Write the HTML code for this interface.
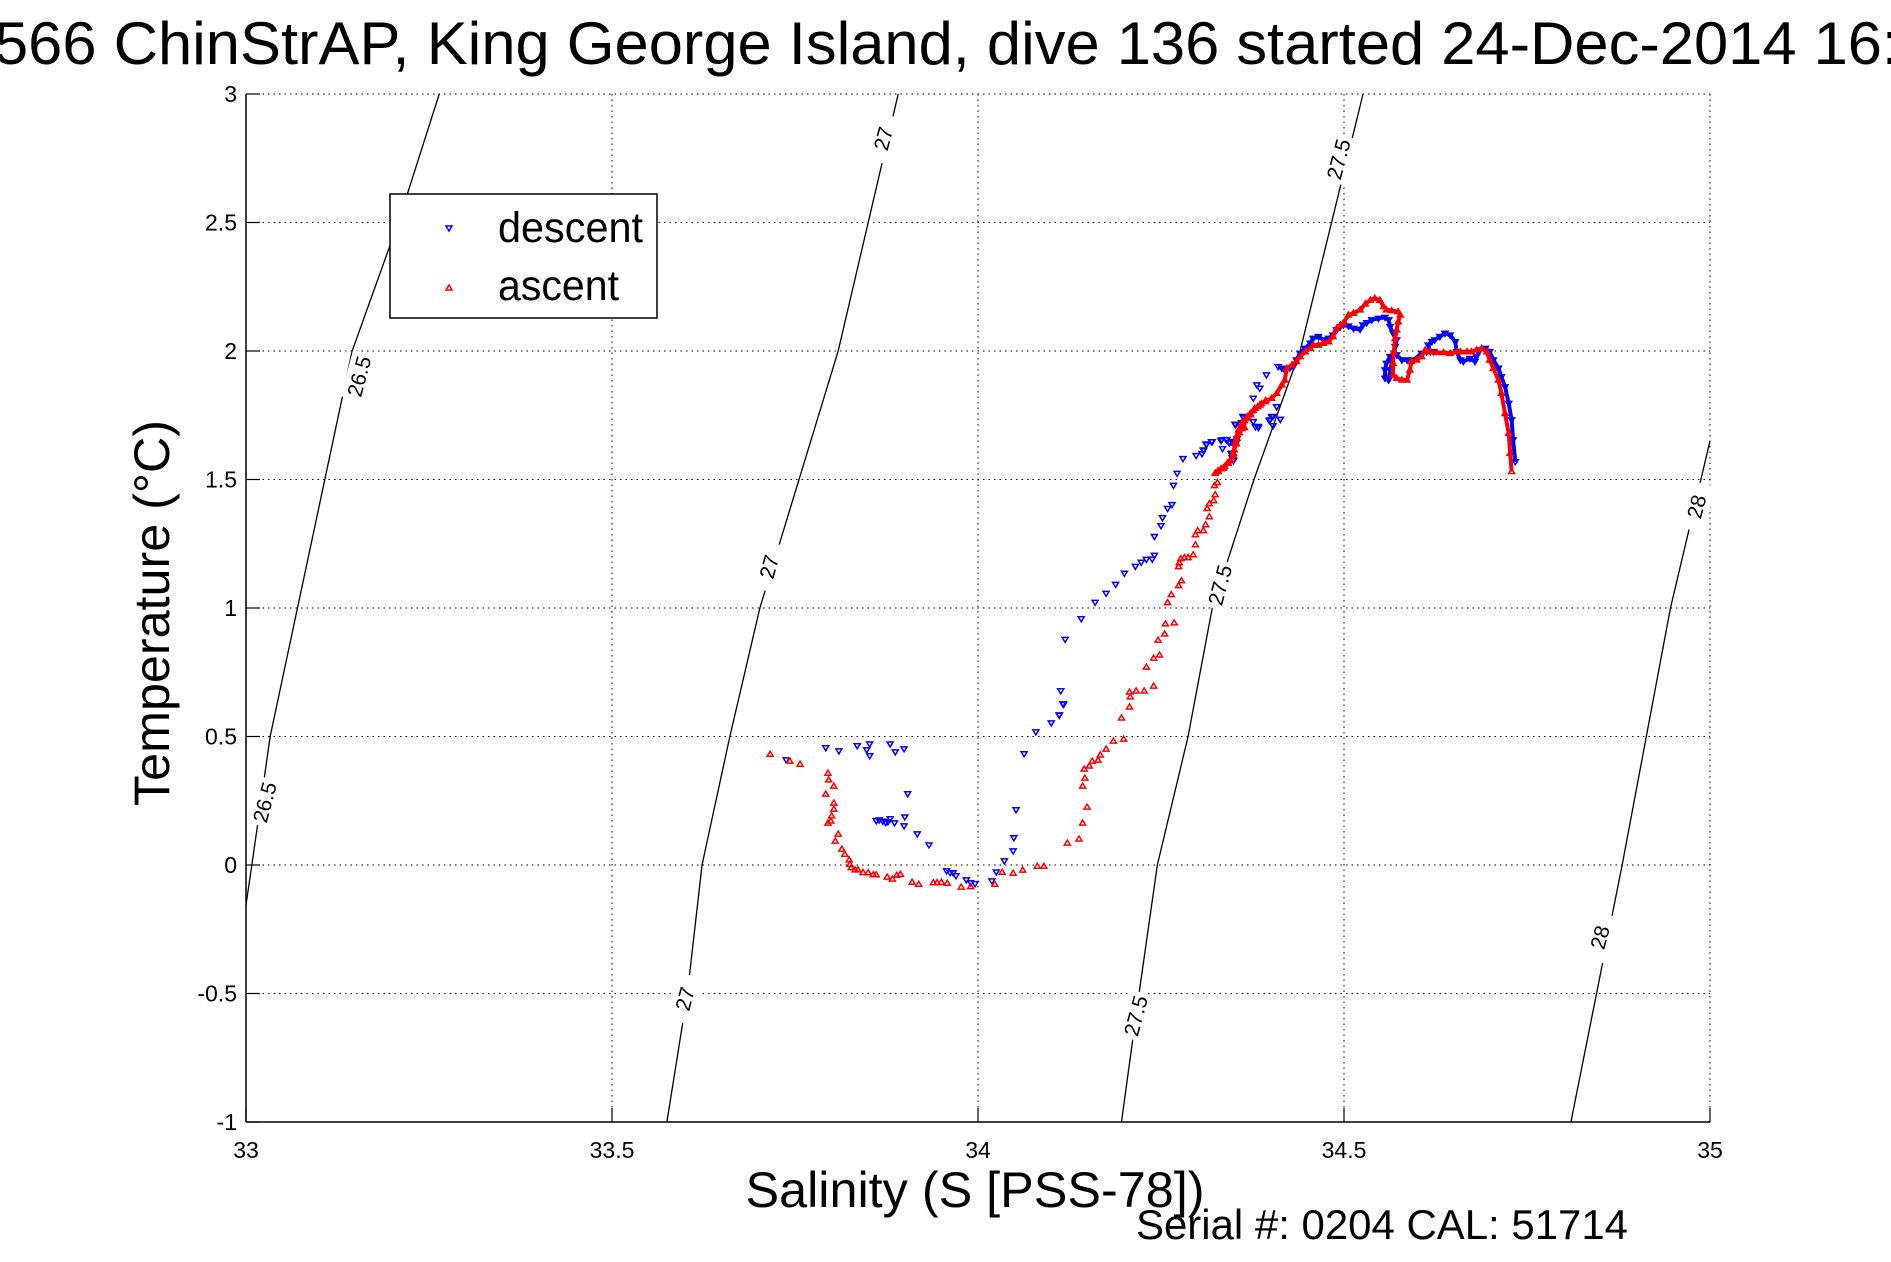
<!DOCTYPE html>
<html><head><meta charset="utf-8"><style>
html,body{margin:0;padding:0;background:#fff;}
svg{display:block;font-family:"Liberation Sans",sans-serif;}
</style></head><body>
<svg id="chart" width="1891" height="1262" viewBox="0 0 1891 1262" xmlns="http://www.w3.org/2000/svg">
<rect width="1891" height="1262" fill="#fff"/>
<text x="-6" y="64" font-size="60" textLength="1905" lengthAdjust="spacingAndGlyphs">566 ChinStrAP, King George Island, dive 136 started 24-Dec-2014 16:</text>
<g id="grid"></g>
<g id="contours"></g>
<g id="series"></g>
<g id="axes"></g>
<text x="975" y="1207" font-size="50" text-anchor="middle" textLength="459" lengthAdjust="spacingAndGlyphs">Salinity (S [PSS-78])</text>
<text transform="translate(169,613) rotate(-90)" font-size="50" text-anchor="middle" textLength="386" lengthAdjust="spacingAndGlyphs">Temperature (°C)</text>
<text x="1136" y="1239" font-size="42" textLength="492" lengthAdjust="spacingAndGlyphs">Serial #: 0204  CAL: 51714</text>
<g>
<rect x="390" y="194" width="267" height="124" fill="#fff" stroke="#000" stroke-width="1.5"/>
<path d="M446,226 L452,226 L449,231 Z" fill="none" stroke="#00f" stroke-width="1.5"/>
<text x="498" y="242" font-size="43" textLength="145" lengthAdjust="spacingAndGlyphs">descent</text>
<path d="M446,290 L452,290 L449,285 Z" fill="none" stroke="#f00" stroke-width="1.5"/>
<text x="498" y="300" font-size="43" textLength="121" lengthAdjust="spacingAndGlyphs">ascent</text>
</g>
</svg>
<script>
const xTicks=[33,33.5,34,34.5,35];
const xTickLabels=["33","33.5","34","34.5","35"];
const yTicks=[-1,-0.5,0,0.5,1,1.5,2,2.5,3];
const yTickLabels=["-1","-0.5","0","0.5","1","1.5","2","2.5","3"];

const c265S=[33.264,33.208,33.145,33.033,33.008,33.0];
const c265T=[3,2.5,2,0.5,0,-0.155];
const c27S=[33.891,33.809,33.702,33.661,33.623,33.603,33.575];
const c27T=[3,2,1,0.5,0,-0.5,-1];
const c275S=[34.526,34.44,34.377,34.32,34.287,34.245,34.22,34.196];
const c275T=[3,2,1.5,1,0.5,0,-0.5,-1];
const c28S=[35,34.946,34.88,34.81];
const c28T=[1.65,1,0,-1];
const contourLabels=["26.5","26.5","27","27","27","27.5","27.5","27.5","28","28"];
const contourLabelS=[33.155,33.026,33.871,33.715,33.600,34.493,34.331,34.216,34.982,34.850];
const contourLabelT=[1.901,0.244,2.826,1.160,-0.521,2.746,1.089,-0.587,1.394,-0.282];

const descentSal=[33.738,33.792,33.810,33.835,33.848,33.852,33.852,33.880,33.887,33.899,33.904,33.900,33.861,33.865,33.870,33.874,33.877,33.880,33.886,33.899,33.917,33.933,33.957,33.962,33.966,33.970,33.984,33.990,33.996,34.019,34.025,34.036,34.048,34.049,34.052,34.063,34.079,34.100,34.111,34.116,34.111,34.117,34.113,34.119,34.141,34.160,34.175,34.188,34.200,34.215,34.223,34.230,34.238,34.241,34.241,34.250,34.252,34.259,34.265,34.267,34.272,34.280,34.298,34.306,34.308,34.312,34.320,34.332,34.334,34.339,34.343,34.347,34.346,34.347,34.349,34.353,34.354,34.352,34.360,34.363,34.376,34.379,34.383,34.398,34.401,34.403,34.408,34.413,34.394,34.381,34.385,34.376,34.408,34.403,34.399,34.413,34.376,34.383,34.362,34.351,34.333,34.340,34.344,34.319,34.312,34.308,34.347,34.349];
const descentTemp=[0.409,0.456,0.444,0.464,0.448,0.471,0.425,0.471,0.440,0.452,0.277,0.187,0.172,0.175,0.170,0.165,0.168,0.180,0.164,0.152,0.121,0.078,-0.023,-0.030,-0.030,-0.042,-0.058,-0.069,-0.073,-0.062,-0.027,0.016,0.055,0.106,0.215,0.433,0.518,0.553,0.584,0.627,0.582,0.625,0.678,0.878,0.958,1.022,1.057,1.092,1.135,1.162,1.178,1.189,1.190,1.205,1.278,1.320,1.351,1.387,1.402,1.477,1.524,1.581,1.593,1.600,1.612,1.635,1.647,1.651,1.620,1.655,1.643,1.647,1.600,1.585,1.573,1.643,1.659,1.713,1.721,1.740,1.725,1.705,1.701,1.729,1.744,1.709,1.783,1.734,1.907,1.868,1.855,1.816,1.783,1.745,1.732,1.734,1.725,1.706,1.745,1.715,1.654,1.654,1.643,1.647,1.638,1.615,1.602,1.576];
const descentTraceSal=[34.734,34.731,34.729,34.725,34.720,34.715,34.711,34.704,34.699,34.693,34.686,34.681,34.679,34.672,34.663,34.659,34.654,34.652,34.645,34.638,34.631,34.624,34.620,34.615,34.618,34.622,34.613,34.606,34.595,34.586,34.579,34.572,34.563,34.558,34.556,34.556,34.561,34.563,34.570,34.572,34.567,34.563,34.561,34.556,34.547,34.538,34.531,34.526,34.522,34.513,34.506,34.499,34.495,34.490,34.485,34.479,34.472,34.465,34.458,34.454,34.447,34.440,34.435,34.431,34.426,34.419,34.415,34.410];
const descentTraceTemp=[1.569,1.654,1.732,1.796,1.861,1.900,1.933,1.965,1.997,2.010,2.004,1.978,1.959,1.971,1.959,1.965,1.997,2.036,2.062,2.069,2.056,2.043,2.036,2.023,1.997,1.997,1.997,1.991,1.965,1.965,1.965,1.985,1.978,1.952,1.926,1.894,1.887,1.926,2.017,2.043,2.069,2.095,2.121,2.131,2.127,2.121,2.110,2.101,2.084,2.088,2.097,2.101,2.095,2.082,2.062,2.049,2.043,2.056,2.049,2.030,2.010,1.991,1.965,1.939,1.933,1.926,1.933,1.939];

const ascentSal=[33.716,33.743,33.757,33.795,33.796,33.803,33.792,33.803,33.803,33.800,33.799,33.795,33.809,33.805,33.814,33.818,33.824,33.825,33.827,33.832,33.836,33.843,33.850,33.857,33.861,33.876,33.883,33.889,33.894,33.910,33.919,33.939,33.944,33.950,33.958,33.977,33.990,34.023,34.033,34.048,34.061,34.081,34.090,34.122,34.138,34.143,34.149,34.143,34.146,34.145,34.152,34.156,34.164,34.167,34.175,34.185,34.199,34.196,34.207,34.208,34.207,34.216,34.227,34.240,34.230,34.240,34.248,34.246,34.255,34.256,34.268,34.259,34.264,34.274,34.278,34.274,34.275,34.277,34.282,34.287,34.294,34.297,34.297,34.300,34.308,34.311,34.316,34.313,34.316,34.322,34.324,34.323,34.327];
const ascentTemp=[0.431,0.404,0.392,0.357,0.331,0.307,0.276,0.241,0.217,0.191,0.171,0.163,0.120,0.093,0.062,0.042,0.020,0.003,-0.010,-0.019,-0.019,-0.029,-0.030,-0.038,-0.038,-0.047,-0.055,-0.040,-0.036,-0.067,-0.075,-0.069,-0.069,-0.067,-0.071,-0.086,-0.084,-0.075,-0.028,-0.032,-0.020,-0.005,-0.005,0.085,0.101,0.163,0.225,0.307,0.338,0.373,0.385,0.404,0.408,0.428,0.451,0.482,0.490,0.572,0.615,0.654,0.673,0.677,0.677,0.696,0.770,0.805,0.817,0.875,0.899,0.938,0.942,1.021,1.052,1.087,1.106,1.161,1.176,1.192,1.196,1.196,1.207,1.246,1.285,1.301,1.301,1.324,1.355,1.387,1.406,1.418,1.441,1.476,1.488];
const ascentTraceSal=[34.729,34.727,34.725,34.720,34.715,34.711,34.704,34.699,34.695,34.688,34.681,34.674,34.668,34.659,34.654,34.645,34.636,34.627,34.618,34.611,34.606,34.599,34.592,34.590,34.586,34.579,34.572,34.567,34.567,34.568,34.570,34.572,34.574,34.577,34.574,34.565,34.558,34.554,34.549,34.542,34.536,34.529,34.522,34.513,34.506,34.499,34.495,34.490,34.485,34.479,34.472,34.465,34.458,34.454,34.447,34.440,34.435,34.429,34.422,34.419,34.415,34.408,34.401,34.392,34.385,34.378,34.372,34.367,34.360,34.356,34.353,34.351,34.349,34.342,34.335,34.328,34.324,34.324,34.328,34.332,34.337,34.341,34.345,34.349,34.350,34.353,34.354,34.357,34.360,34.364,34.364,34.368,34.372,34.376,34.382,34.387,34.393];
const ascentTraceTemp=[1.531,1.602,1.680,1.757,1.835,1.887,1.933,1.965,1.997,2.010,2.004,1.997,1.997,1.997,1.997,1.991,1.994,1.994,1.997,2.004,1.978,1.965,1.959,1.926,1.887,1.887,1.894,1.907,1.952,1.997,2.049,2.082,2.114,2.140,2.153,2.157,2.160,2.173,2.198,2.205,2.198,2.183,2.160,2.147,2.140,2.108,2.101,2.088,2.056,2.036,2.030,2.023,2.023,2.010,1.997,1.978,1.959,1.946,1.933,1.887,1.868,1.835,1.816,1.803,1.790,1.777,1.757,1.738,1.719,1.693,1.667,1.641,1.602,1.563,1.544,1.531,1.524,1.525,1.534,1.542,1.550,1.565,1.573,1.593,1.616,1.639,1.659,1.682,1.698,1.702,1.729,1.744,1.752,1.768,1.783,1.795,1.807];

const NS='http://www.w3.org/2000/svg';
const X0=246,X1=1710,Y0=94,Y1=1122;
function sx(s){return X0+(s-33)/(35-33)*(X1-X0);}
function sy(t){return Y1-(t-(-1))/(3-(-1))*(Y1-Y0);}
function mk(tag,attrs,parent){const e=document.createElementNS(NS,tag);for(const k in attrs)e.setAttribute(k,attrs[k]);parent.appendChild(e);return e;}

const grid=document.getElementById('grid');
xTicks.forEach((v,i)=>{
  const l=mk('line',{x1:sx(v),x2:sx(v),y1:Y0,y2:Y1,stroke:'#000','stroke-width':1,'stroke-dasharray':'1.5,4'},grid);
  
  
});
yTicks.forEach((v,i)=>{
  const l=mk('line',{x1:X0,x2:X1,y1:sy(v),y2:sy(v),stroke:'#000','stroke-width':1,'stroke-dasharray':'1.5,4'},grid);
  
  
});

const cg=document.getElementById('contours');
[[c265S,c265T,'contour-26-5'],[c27S,c27T,'contour-27'],[c275S,c275T,'contour-27-5'],[c28S,c28T,'contour-28']].forEach(c=>{
  const pts=c[0].map((s,i)=>sx(s)+','+sy(c[1][i])).join(' ');
  const p=mk('polyline',{points:pts,fill:'none',stroke:'#000','stroke-width':1.3},cg);
  
  
});
contourLabels.forEach((txt,i)=>{
  const x=sx(contourLabelS[i]),y=sy(contourLabelT[i]);
  const g=mk('g',{transform:'translate('+x+','+y+') rotate(-75)'},cg);
  
  
  mk('rect',{x:-24,y:-13,width:48,height:26,fill:'#fff'},g);
  const t=mk('text',{x:0,y:7,'font-size':21,'text-anchor':'middle'},g);
  t.textContent=txt;
});

const sg=document.getElementById('series');
function trace(S,T,color,name){
  const pts=S.map((s,i)=>sx(s)+','+sy(T[i])).join(' ');
  const p=mk('polyline',{points:pts,fill:'none',stroke:color,'stroke-width':4,'stroke-linejoin':'round'},sg);
  
  
}
function markers(S,T,color,down,name){
  S.forEach((s,i)=>{
    const x=sx(s),y=sy(T[i]);
    const d=down?`M${x-3},${y-2} L${x+3},${y-2} L${x},${y+3} Z`:`M${x-3},${y+2} L${x+3},${y+2} L${x},${y-3} Z`;
    const p=mk('path',{d:d,fill:'none',stroke:color,'stroke-width':1.5},sg);
    
    
  });
}
trace(descentTraceSal,descentTraceTemp,'#00f','descent-trace');
markers(descentTraceSal,descentTraceTemp,'#00f',true,'descent-point');
markers(descentSal,descentTemp,'#00f',true,'descent-point');
trace(ascentTraceSal,ascentTraceTemp,'#f00','ascent-trace');
markers(ascentTraceSal,ascentTraceTemp,'#f00',false,'ascent-point');
markers(ascentSal,ascentTemp,'#f00',false,'ascent-point');

const ax=document.getElementById('axes');
const la=mk('line',{x1:X0,x2:X0,y1:Y0,y2:Y1,stroke:'#000','stroke-width':1.5},ax);


const lb=mk('line',{x1:X0,x2:X1,y1:Y1,y2:Y1,stroke:'#000','stroke-width':1.5},ax);


xTicks.forEach((v,i)=>{
  const tk=mk('line',{x1:sx(v),x2:sx(v),y1:Y1,y2:Y1-14,stroke:'#000','stroke-width':1.2},ax);
  
  
  const t=mk('text',{x:sx(v),y:Y1+36,'font-size':23,'text-anchor':'middle'},ax);
  
  
  t.textContent=xTickLabels[i];
});
yTicks.forEach((v,i)=>{
  const tk=mk('line',{x1:X0,x2:X0+14,y1:sy(v),y2:sy(v),stroke:'#000','stroke-width':1.2},ax);
  
  
  const t=mk('text',{x:X0-9,y:sy(v)+8,'font-size':23,'text-anchor':'end'},ax);
  
  
  t.textContent=yTickLabels[i];
});
</script>
</body></html>
